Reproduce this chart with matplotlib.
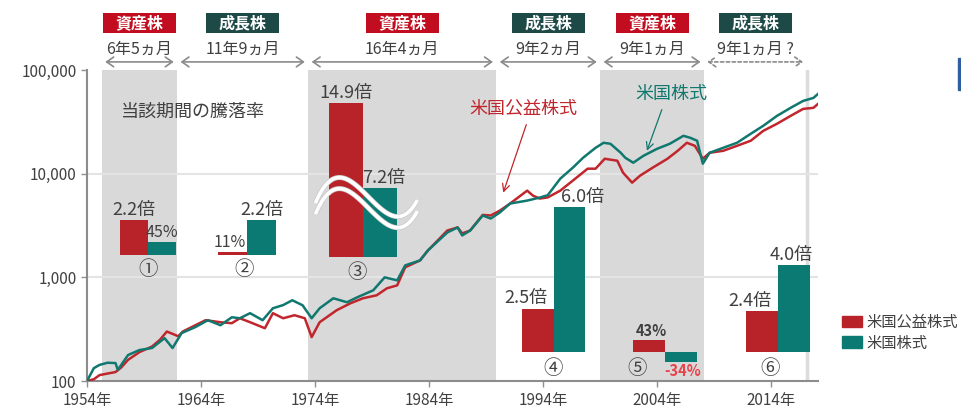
import numpy as np
import matplotlib
matplotlib.use('Agg')
import matplotlib.pyplot as plt
from matplotlib.patches import Patch, Rectangle
import matplotlib.patheffects as pe
from matplotlib.ticker import FuncFormatter

plt.rcParams['font.family'] = ['Noto Sans CJK JP', 'DejaVu Sans']

# 指数（1954年=100）
util_years = [1954.0, 1954.6, 1955.1, 1955.8, 1956.5, 1957.0, 1957.6, 1958.6, 1959.7, 1960.4,
              1961.0, 1961.5, 1962.0, 1962.4, 1963.5, 1964.4, 1965.7, 1966.7, 1967.4, 1968.3,
              1969.6, 1970.3, 1971.2, 1972.2, 1973.1, 1973.7, 1974.4, 1975.9, 1977.1, 1978.2,
              1979.4, 1980.3, 1981.2, 1981.9, 1983.2, 1983.9, 1985.6, 1986.5, 1986.9, 1987.6,
              1988.7, 1989.4, 1990.2, 1991.1, 1992.6, 1993.1, 1993.7, 1994.4, 1995.5, 1996.6,
              1997.9, 1998.6, 1999.4, 2000.5, 2001.0, 2001.8, 2002.5, 2003.6, 2004.9, 2005.8,
              2006.6, 2007.3, 2008.0, 2008.6, 2009.8, 2011.0, 2012.2, 2013.3, 2014.5, 2015.7,
              2016.8, 2017.7, 2018.1]
util_values = [100, 104, 114, 118, 122, 135, 160, 190, 215, 250,
               300, 285, 270, 300, 345, 386, 369, 361, 403, 369,
               323, 451, 403, 431, 403, 265, 369, 482, 562, 628,
               671, 784, 837, 1250, 1456, 1820, 2830, 3030, 2650, 2830,
               4000, 3950, 4400, 5150, 6860, 6140, 5750, 5900, 6860, 8570,
               11170, 11170, 13930, 13330, 10230, 8190, 9570, 11420, 13930, 16630,
               19860, 18570, 13930, 15910, 16630, 18570, 20770, 25890, 30270, 36100,
               42170, 43150, 47100]

stock_years = [1954.0, 1954.6, 1955.1, 1955.8, 1956.5, 1956.7, 1957.6, 1958.6, 1959.7, 1960.8,
               1961.5, 1962.3, 1963.5, 1964.6, 1965.7, 1966.7, 1967.4, 1968.3, 1969.4, 1970.3,
               1971.2, 1972.0, 1972.9, 1973.7, 1974.4, 1975.6, 1976.8, 1977.7, 1979.1, 1980.1,
               1981.2, 1981.9, 1983.2, 1983.9, 1985.6, 1986.5, 1986.9, 1987.6, 1988.7, 1989.4,
               1990.2, 1991.1, 1992.6, 1993.7, 1994.4, 1995.5, 1996.6, 1997.5, 1998.6, 1999.3,
               1999.9, 2000.8, 2001.2, 2001.9, 2002.8, 2004.0, 2005.1, 2006.3, 2006.9, 2007.5,
               2008.0, 2008.6, 2009.8, 2011.0, 2012.2, 2013.3, 2014.5, 2015.7, 2016.8, 2017.7,
               2018.1]
stock_values = [100, 133, 143, 150, 149, 128, 178, 199, 208, 259,
                208, 290, 331, 386, 345, 412, 403, 451, 386, 503,
                540, 601, 538, 403, 503, 628, 575, 642, 750, 1000,
                935, 1304, 1456, 1820, 2710, 3030, 2535, 2830, 3950, 3690,
                4220, 5150, 5500, 5880, 6200, 8950, 11420, 14240, 17780, 19860,
                19420, 15910, 14240, 12760, 14890, 17390, 19420, 23190, 22180, 20770,
                12480, 15910, 17780, 19860, 24250, 28960, 36100, 43150, 50350, 53800,
                58750]

# 局面の区切り
period_edges = [1955.3, 1961.9, 1973.4, 1989.9, 1999.0, 2008.1, 2017.1]
period_types = ['資産株', '成長株', '資産株', '成長株', '資産株', '成長株']
period_lengths = ['6年5ヵ月', '11年9ヵ月', '16年4ヵ月', '9年2ヵ月', '9年1ヵ月', '9年1ヵ月 ?']

# 当該期間の騰落率（%、2.2倍 = +120%）
util_returns = [120, 11, 1390, 150, 43, 140]
stock_returns = [45, 120, 620, 500, -34, 300]
circled = ['①', '②', '③', '④', '⑤', '⑥']

year_ticks = [1954, 1964, 1974, 1984, 1994, 2004, 2014]

RED = '#c1262d'
TEAL = '#10786f'
BAR_RED = '#b8232a'
BAR_TEAL = '#0b7a72'
BOX_RED = '#c10d1f'
BOX_TEAL = '#1d4a47'
SHADE = '#d9d9d9'
TXT = '#404040'

W, H = 961, 409
fig = plt.figure(figsize=(W / 100, H / 100), dpi=100)
ax = fig.add_axes([87 / W, 28 / H, 731 / W, 311 / H])

for i in range(0, len(period_edges) - 1, 2):
    ax.axvspan(period_edges[i], period_edges[i + 1], color=SHADE, lw=0, zorder=0)
ax.axvline(period_edges[-1], color='#dcdcdc', lw=2.5, zorder=0.5)
for lv in [1000, 10000]:
    ax.axhline(lv, color='#e4e4e4', lw=1.5, zorder=0.8)

ax.plot(util_years, util_values, color=RED, lw=1.8, zorder=3)
ax.plot(stock_years, stock_values, color=TEAL, lw=1.8, zorder=3)

ax.set_yscale('log')
ax.set_ylim(100, 100000)
ax.set_xlim(1954, 2018.1)
ax.set_yticks([100, 1000, 10000, 100000])
ax.yaxis.set_major_formatter(FuncFormatter(lambda v, p: f'{int(v):,}'))
ax.yaxis.set_minor_locator(matplotlib.ticker.NullLocator())
ax.set_xticks(year_ticks)
ax.set_xticklabels([f'{y}年' for y in year_ticks])
ax.tick_params(colors='#909090', labelcolor=TXT, labelsize=11, length=4, width=1)
ax.tick_params(axis='x', pad=4)
for s in ['top', 'right']:
    ax.spines[s].set_visible(False)
for s in ['left', 'bottom']:
    ax.spines[s].set_color('#8c8c8c')
    ax.spines[s].set_linewidth(1.5)
ax.patch.set_alpha(0)

# 局面ラベル・期間の矢印
tr = ax.get_xaxis_transform()
for i, kind in enumerate(period_types):
    x0, x1 = period_edges[i], period_edges[i + 1]
    xc = (x0 + x1) / 2
    color = BOX_RED if kind == '資産株' else BOX_TEAL
    ax.add_patch(Rectangle((xc - 3.2, 1.119), 6.4, 0.064, transform=tr,
                           color=color, clip_on=False, lw=0))
    ax.text(xc, 1.151, kind, transform=tr, ha='center', va='center',
            color='white', fontsize=11.5, fontweight='bold')
    ax.text(xc, 1.066, period_lengths[i], transform=tr, ha='center',
            va='center', color=TXT, fontsize=11.5)
    ls = (0, (2, 1.5)) if i == len(period_types) - 1 else '-'
    ax.annotate('', xy=(x1 - 0.3, 1.026), xytext=(x0 + 0.3, 1.026),
                xycoords=tr, textcoords=tr,
                arrowprops=dict(arrowstyle='<->,head_length=0.5,head_width=0.35',
                                color='#8a8a8a', lw=1.2, linestyle=ls,
                                shrinkA=0, shrinkB=0))

# 系列名の注記
ax.annotate('米国公益株式', xy=(1990.5, 6560), xytext=(1992.25, 42170),
            ha='center', va='center', color=RED, fontsize=13, zorder=5,
            arrowprops=dict(arrowstyle='->', color=RED, lw=0.9,
                            relpos=(0.55, 0), shrinkA=3, shrinkB=0))
ax.annotate('米国株式', xy=(2003.1, 16630), xytext=(2005.25, 58750),
            ha='center', va='center', color=TEAL, fontsize=13, zorder=5,
            arrowprops=dict(arrowstyle='->', color=TEAL, lw=0.9,
                            relpos=(0.4, 0), shrinkA=3, shrinkB=0))

fig.text(193 / W, 1 - 112 / H, '当該期間の騰落率', ha='center', va='center',
         fontsize=13, color=TXT)


def fmt(v):
    return f'{v / 100 + 1:.1f}倍' if v >= 100 else f'{v}%'


# 騰落率の棒グラフ（左端px, 基準線px, 棒幅px, px/%）
groups = [(120, 255, 28, 0.29), (218, 255, 29, 0.29), (329, 257, 34, 0.111),
          (522, 352, 31.5, 0.29), (633, 352, 32, 0.29), (746, 352, 32, 0.29)]
label_dx = [(0, 0), (-3, 0), (0, 4), (-12, 13), (2, 2), (-12, -3)]
num_dx = [0, -3, -6, 0, -28, -8]
lo, hi = -60, 1500
for i, (xl, yb, w, s) in enumerate(groups):
    bax = fig.add_axes([xl / W, 1 - (yb - lo * s) / H, 2 * w / W, (hi - lo) * s / H])
    bax.set_xlim(0, 2)
    bax.set_ylim(lo, hi)
    bax.axis('off')
    vals = [util_returns[i], stock_returns[i]]
    bax.bar([0.5, 1.5], vals, width=1.0, color=[BAR_RED, BAR_TEAL], zorder=2)
    for j, v in enumerate(vals):
        small = abs(v) < 100
        bax.annotate(fmt(v), (0.5 + j, v), xytext=(label_dx[i][j], 1 if v >= 0 else -1),
                     textcoords='offset pixels', ha='center',
                     va='bottom' if v >= 0 else 'top',
                     fontsize=(10.5 if i == 4 else 11.5) if small else 13,
                     fontweight='bold' if i == 4 else 'normal',
                     color='#e8434b' if v < 0 else TXT,
                     annotation_clip=False, zorder=4)
    bax.annotate(circled[i], (1.0, 0), xytext=(num_dx[i], -15 if i < 3 else -16),
                 textcoords='offset pixels', ha='center', va='center',
                 fontsize=14, color=TXT, annotation_clip=False)
    if i == 2:
        # 省略記号（波線）
        xs = np.linspace(-0.4, 2.6, 80)
        c = np.polyfit([-0.4, 1.0, 1.8, 2.6], [486, 590, 380, 513], 3)
        for off in [0, -100]:
            bax.plot(xs, np.polyval(c, xs) + off, color='white', lw=2.6, zorder=3,
                     clip_on=False, solid_capstyle='butt',
                     path_effects=[pe.Stroke(linewidth=3.6, foreground='#c8c8c8'), pe.Normal()])

fig.legend(handles=[Patch(color=BAR_RED), Patch(color=BAR_TEAL)],
           labels=['米国公益株式', '米国株式'], loc='upper left',
           bbox_to_anchor=(828 / W, 1 - 300 / H), frameon=False, fontsize=11,
           handlelength=1.3, handleheight=0.8, handletextpad=0.3, labelspacing=0.25,
           labelcolor=TXT)

fig.patches.append(Rectangle((958 / W, 1 - 90 / H), 3 / W, 32 / H,
                             transform=fig.transFigure, color='#2f5f9f'))

fig.savefig('out.png', dpi=100)
